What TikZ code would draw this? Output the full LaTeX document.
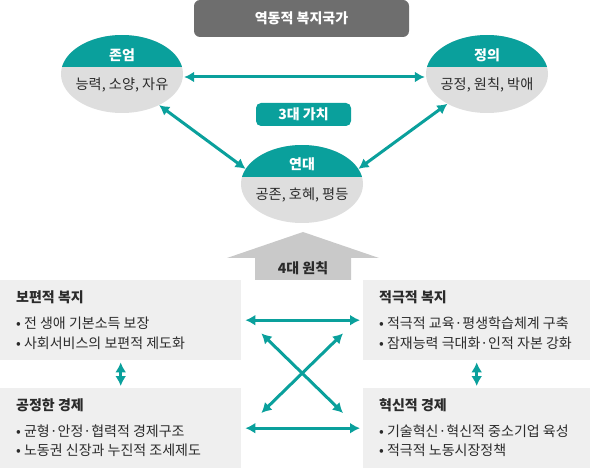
\documentclass[tikz,border=0pt]{standalone}
\usepackage{fontspec}
\setmainfont{Noto Sans CJK KR}
\usepackage{tikz}
\usetikzlibrary{arrows.meta,calc,positioning,shapes.geometric}

\definecolor{teal}{RGB}{10,160,156}
\definecolor{darkbox}{RGB}{110,110,110}
\definecolor{elgray}{RGB}{222,222,222}
\definecolor{panelgray}{RGB}{239,239,239}
\definecolor{arrowgray}{RGB}{201,201,201}
\definecolor{ink}{RGB}{43,43,43}

\tikzset{
  value/.style={ellipse, fill=elgray, minimum width=122pt, minimum height=78pt, inner sep=0pt,
    path picture={\fill[teal] ([yshift=7pt]path picture bounding box.west) rectangle (path picture bounding box.north east);}},
  valtitle/.style={text=white, font=\fontsize{14}{16}\selectfont\bfseries},
  valtext/.style={text=ink, font=\fontsize{14.2}{16}\selectfont},
  panel/.style={fill=panelgray, anchor=north west, minimum height=80pt, inner sep=0pt},
  paneltitle/.style={right, inner sep=0pt, text=ink, font=\fontsize{14}{16}\selectfont\bfseries},
  paneltext/.style={right, inner sep=0pt, text=ink, font=\fontsize{14}{16}\selectfont},
  biarrow/.style={draw=teal, line width=3pt, {Latex[length=10pt,width=11pt]}-{Latex[length=10pt,width=11pt]}}
}

\begin{document}
\begin{tikzpicture}[x=1pt,y=-1pt]
		\useasboundingbox (0,0) rectangle (590,468);
		\node[fill=darkbox, rounded corners=6pt, minimum width=215pt, minimum height=37pt, text=white, font=\fontsize{14}{16}\selectfont\bfseries] (state) at (301.5,18.5) {역동적 복지국가};
		\node[value] (zonum) at (122,74) {};
		\node[value] (jeongui) at (487,74) {};
		\node[value] (yeondae) at (302,184) {};
		\node[valtitle] at ([yshift=19pt]zonum.center) {존엄};
		\node[valtext] at ([yshift=-11pt]zonum.center) {능력, 소양, 자유};
		\node[valtitle] at ([yshift=19pt]jeongui.center) {정의};
		\node[valtext] at ([yshift=-11pt]jeongui.center) {공정, 원칙, 박애};
		\node[valtitle] at ([yshift=20pt]yeondae.center) {연대};
		\node[valtext] at ([yshift=-11pt]yeondae.center) {공존, 호혜, 평등};
		\node[fill=teal, rounded corners=5pt, minimum width=95pt, minimum height=23pt, text=white, font=\fontsize{14}{16}\selectfont\bfseries] (gachi) at (303.5,114.5) {3대 가치};
		\draw[biarrow, shorten <=1pt, shorten >=1pt] ([yshift=-3pt]zonum.east) -- ([yshift=-3pt]jeongui.west);
		\draw[biarrow] (zonum.-40) -- (yeondae.165);
		\draw[biarrow] (jeongui.-143) -- (yeondae.15);

		\fill[arrowgray] (255,280) -- (255,258) -- (227,258) -- (303,232) -- (379,258) -- (351,258) -- (351,280) -- cycle;
		\node[text=ink, font=\fontsize{14}{16}\selectfont\bfseries] (wonchik) at (303,268) {4대 원칙};

		\node[panel, minimum width=241pt] (bopyeon) at (0,280) {};
		\node[panel, minimum width=227pt] (jeokgeuk) at (363,280) {};
		\node[panel, minimum width=241pt] (gongjeong) at (0,388) {};
		\node[panel, minimum width=227pt] (hyeoksin) at (363,388) {};

		\node[paneltitle] at (16,297) {보편적 복지};
		\node[paneltext] at (16,323) {• 전 생애 기본소득 보장};
		\node[paneltext] at (16,343) {• 사회서비스의 보편적 제도화};
		\node[paneltitle] at (379,297) {적극적 복지};
		\node[paneltext] at (379,323) {• 적극적 교육·평생학습체계 구축};
		\node[paneltext] at (379,343) {• 잠재능력 극대화·인적 자본 강화};
		\node[paneltitle] at (16,405) {공정한 경제};
		\node[paneltext] at (16,431) {• 균형·안정·협력적 경제구조};
		\node[paneltext] at (16,450) {• 노동권 신장과 누진적 조세제도};
		\node[paneltitle] at (379,405) {혁신적 경제};
		\node[paneltext] at (379,431) {• 기술혁신·혁신적 중소기업 육성};
		\node[paneltext] at (379,450) {• 적극적 노동시장정책};

		\draw[biarrow, shorten <=4pt, shorten >=3pt] (bopyeon.east) -- (jeokgeuk.west);
		\draw[biarrow, shorten <=4pt, shorten >=3pt] (gongjeong.east) -- (hyeoksin.west);
		\draw[biarrow, shorten <=2pt, shorten >=2pt] (bopyeon.south) -- (gongjeong.north);
		\draw[biarrow, shorten <=2pt, shorten >=2pt] (jeokgeuk.south) -- (hyeoksin.north);
		\draw[biarrow] ([xshift=20pt,yshift=27pt]bopyeon.south east) -- ([xshift=-20pt,yshift=-25pt]hyeoksin.north west);
		\draw[biarrow] ([xshift=-20pt,yshift=27pt]jeokgeuk.south west) -- ([xshift=20pt,yshift=-25pt]gongjeong.north east);
	\end{tikzpicture}
\end{document}
